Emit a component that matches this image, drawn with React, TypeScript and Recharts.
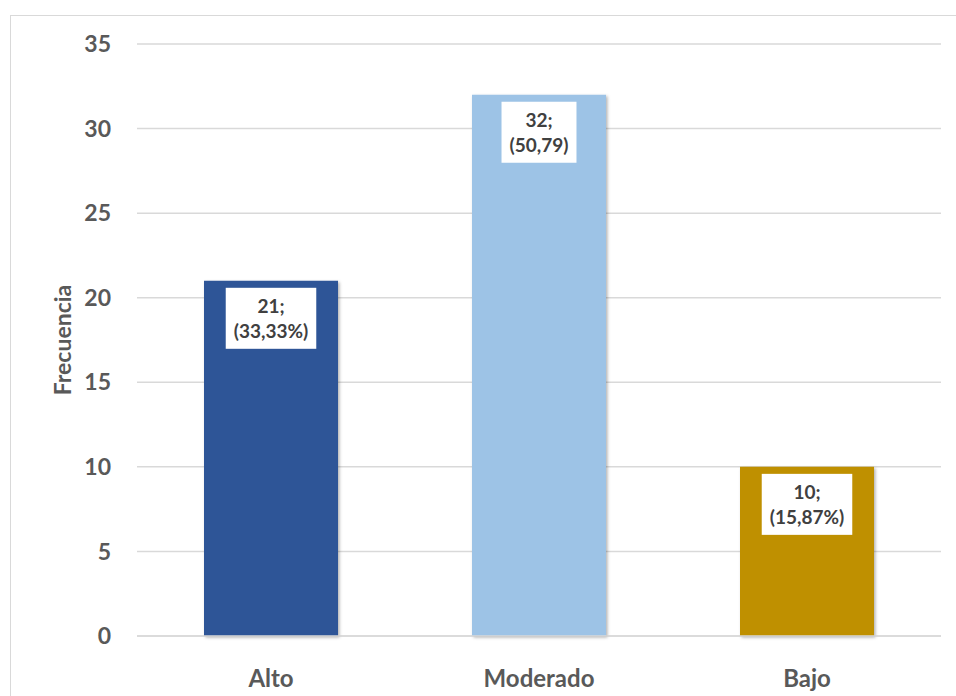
import React from "react";
import { BarChart, Bar, XAxis, YAxis, CartesianGrid, LabelList, Cell } from "recharts";

const categories = ["Alto", "Moderado", "Bajo"];
const frecuencias = [21, 32, 10];
const porcentajes = ["(33,33%)", "(50,79)", "(15,87%)"];
const colores = ["#2F5597", "#9DC3E6", "#BF9000"];
const yTicks = [0, 5, 10, 15, 20, 25, 30, 35];

const data = categories.map((c, i) => ({ name: c, value: frecuencias[i], pct: porcentajes[i] }));

const FONT = "Lato, 'Open Sans', sans-serif";
const LABEL_SIZE = 19;

function measure(text: string, font: string): number {
  try {
    const c = document.createElement("canvas");
    const ctx = c.getContext("2d");
    if (ctx) {
      ctx.font = font;
      return ctx.measureText(text).width;
    }
  } catch (e) {}
  return text.length * 9;
}

const DataLabel = (props: any) => {
  const { x, y, width, index } = props;
  const l1 = `${frecuencias[index]};`;
  const l2 = porcentajes[index];
  const f = `bold ${LABEL_SIZE}px Lato`;
  const w = Math.max(measure(l1, f), measure(l2, f)) + 16;
  const cx = x + width / 2;
  const top = y + 7;
  return (
    <g>
      <rect x={cx - w / 2} y={top} width={w} height={61} fill="#ffffff" />
      <text x={cx} y={top + 25} textAnchor="middle" fontFamily={FONT} fontWeight="bold" fontSize={LABEL_SIZE} fill="#404040">
        {l1}
      </text>
      <text x={cx} y={top + 50} textAnchor="middle" fontFamily={FONT} fontWeight="bold" fontSize={LABEL_SIZE} fill="#404040">
        {l2}
      </text>
    </g>
  );
};

const YTitle = () => (
  <text
    x={62}
    y={340}
    transform="rotate(-90 62 340)"
    textAnchor="middle"
    dominantBaseline="central"
    fontFamily={FONT}
    fontWeight="bold"
    fontSize={23}
    fill="#595959"
  >
    Frecuencia
  </text>
);

export default function App() {
  return (
    <div style={{ position: "fixed", left: 0, top: 0, width: 956, height: 696, background: "#fff", overflow: "hidden" }}>
      <div
        style={{
          position: "absolute",
          left: 10,
          top: 15,
          width: 980,
          height: 720,
          border: "1.5px solid #d9d9d9",
          boxSizing: "border-box",
        }}
      />
      <div style={{ position: "absolute", left: 0, top: 0 }}>
        <BarChart
          width={956}
          height={696}
          data={data}
          margin={{ top: 44, right: 15, bottom: 0, left: 0 }}
          barCategoryGap="25%"
        >
          <defs>
            <filter id="barShadow2" x="-10%" y="-10%" width="130%" height="130%">
              <feDropShadow dx="1.5" dy="1.5" stdDeviation="1.5" floodColor="#000" floodOpacity="0.3" />
            </filter>
          </defs>
          <CartesianGrid vertical={false} stroke="#d9d9d9" strokeWidth={1.5} />
          <XAxis
            dataKey="name"
            height={60}
            axisLine={{ stroke: "#d9d9d9", strokeWidth: 1.5 }}
            tickLine={false}
            tick={{ fill: "#595959", fontSize: 24, fontWeight: "bold", fontFamily: FONT }}
            tickMargin={28}
          />
          <YAxis
            domain={[0, 35]}
            ticks={yTicks}
            interval={0}
            axisLine={false}
            tickLine={false}
            width={137}
            tickMargin={20}
            tick={{ fill: "#595959", fontSize: 23, fontWeight: "bold", fontFamily: FONT }}
            label={<YTitle />}
          />
          <Bar dataKey="value" isAnimationActive={false} filter="url(#barShadow2)">
            {data.map((d, i) => (
              <Cell key={d.name} fill={colores[i]} />
            ))}
            <LabelList dataKey="value" content={<DataLabel />} />
          </Bar>
        </BarChart>
      </div>
    </div>
  );
}
